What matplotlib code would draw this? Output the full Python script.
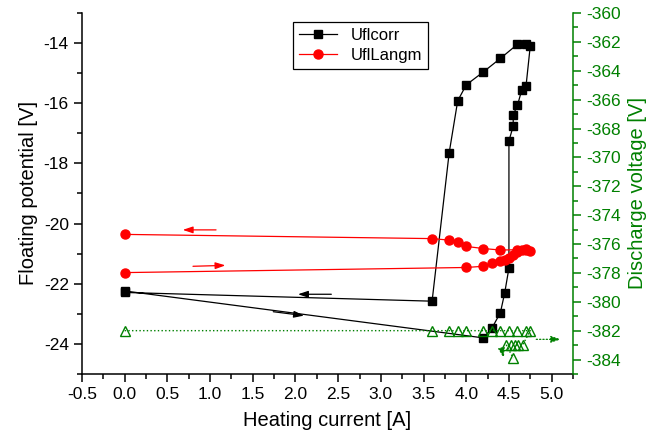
import matplotlib
matplotlib.use("Agg")
import matplotlib.pyplot as plt
from matplotlib.ticker import MultipleLocator

plt.rcParams['font.family'] = ['Liberation Sans', 'DejaVu Sans']
plt.rcParams['axes.unicode_minus'] = False

GREEN = '#008000'

# Uflcorr (black squares), heating then cooling
corr_x = [0.0, 4.2, 4.3, 4.4, 4.45, 4.5, 4.5, 4.55, 4.55, 4.6, 4.65, 4.7, 4.75,
          4.7, 4.6, 4.4, 4.2, 4.0, 3.9, 3.8, 3.6, 0.0]
corr_y = [-22.24, -23.80, -23.48, -22.96, -22.31, -21.48, -17.25, -16.76, -16.38,
          -16.07, -15.56, -15.43, -14.09, -14.04, -14.04, -14.51, -14.96, -15.39,
          -15.92, -17.65, -22.58, -22.29]

# UflLangm (red circles)
langm_x = [0.0, 4.0, 4.2, 4.3, 4.4, 4.45, 4.5, 4.55, 4.6, 4.65, 4.7, 4.75,
           4.7, 4.6, 4.4, 4.2, 4.0, 3.9, 3.8, 3.6, 0.0]
langm_y = [-21.63, -21.46, -21.42, -21.32, -21.26, -21.21, -21.13, -21.05, -20.95,
           -20.88, -20.87, -20.90, -20.86, -20.87, -20.88, -20.83, -20.76, -20.62,
           -20.55, -20.50, -20.36]

# Discharge voltage (green open triangles, right axis)
dis_x = [0.0, 3.6, 3.8, 3.9, 4.0, 4.2, 4.3, 4.4, 4.5, 4.6, 4.7, 4.75,
         4.66, 4.61, 4.57, 4.52, 4.47, 4.55]
dis_y = [-382.0, -382.0, -382.0, -382.0, -382.0, -382.0, -382.0, -382.0, -382.0,
         -382.0, -382.0, -382.0, -383.0, -383.0, -383.0, -383.0, -383.0, -383.9]

fig = plt.figure(figsize=(6.47, 4.43), dpi=100)
ax = fig.add_axes([0.1267, 0.1558, 0.7589, 0.8149])
ax2 = ax.twinx()

ax.plot(corr_x, corr_y, color='black', lw=0.9, marker='s', ms=5.5, label='Uflcorr')
ax.plot(langm_x, langm_y, color='red', lw=0.9, marker='o', ms=6.5, label='UflLangm')
ax2.plot(dis_x, dis_y, color=GREEN, lw=1.0, ls=':', marker='^', ms=7,
         mfc='none', mec=GREEN, mew=1.0)

# direction arrows
def arrow(a, tail, head, color, ls='-'):
    a.annotate('', xy=head, xytext=tail,
               arrowprops=dict(arrowstyle='-|>,head_length=0.6,head_width=0.2',
                               color=color, lw=0.9, ls=ls, shrinkA=0, shrinkB=0))

arrow(ax, (1.07, -20.21), (0.68, -20.21), 'red')
arrow(ax, (0.80, -21.42), (1.18, -21.39), 'red')
arrow(ax, (2.42, -22.35), (2.03, -22.35), 'black')
arrow(ax, (1.74, -22.93), (2.10, -23.06), 'black')
arrow(ax2, (4.82, -382.6), (5.11, -382.6), GREEN, ':')
arrow(ax2, (4.42, -383.4), (4.44, -383.9), GREEN, ':')

ax.set_xlim(-0.5, 5.25)
ax.set_ylim(-25, -13)
ax2.set_ylim(-385, -360)

ax.xaxis.set_major_locator(MultipleLocator(0.5))
ax.xaxis.set_minor_locator(MultipleLocator(0.25))
ax.yaxis.set_major_locator(MultipleLocator(2))
ax.yaxis.set_minor_locator(MultipleLocator(1))
ax2.yaxis.set_major_locator(MultipleLocator(2))
ax2.yaxis.set_minor_locator(MultipleLocator(1))
ax.xaxis.set_major_formatter(plt.FuncFormatter(lambda v, p: f'{v:.1f}'))

for s in ['top', 'right']:
    ax.spines[s].set_visible(False)
for s in ['top', 'left', 'bottom']:
    ax2.spines[s].set_visible(False)
ax.spines['left'].set_linewidth(1.1)
ax.spines['bottom'].set_linewidth(1.1)
ax2.spines['right'].set_linewidth(1.1)
ax2.spines['right'].set_color(GREEN)

ax.tick_params(which='major', direction='out', length=6, width=1.1, labelsize=12.5)
ax.tick_params(which='minor', direction='out', length=3.5, width=1.1)
ax2.tick_params(which='major', direction='out', length=6, width=1.1, labelsize=12.5,
                color=GREEN, labelcolor=GREEN)
ax2.tick_params(which='minor', direction='out', length=3.5, width=1.1, color=GREEN)

ax.set_xlabel('Heating current [A]', fontsize=14.5, labelpad=6)
ax.set_ylabel('Floating potential [V]', fontsize=14.5, labelpad=4)
ax2.set_ylabel('Discharge voltage [V]', fontsize=14.5, color=GREEN, labelpad=5)

leg = ax.legend(loc='upper left', bbox_to_anchor=(0.43, 0.975), fontsize=12,
                frameon=True, fancybox=False, framealpha=1, edgecolor='black',
                handlelength=2.3, borderpad=0.35, labelspacing=0.3, borderaxespad=0)
leg.get_frame().set_linewidth(0.9)

plt.savefig('out.png', dpi=100)
